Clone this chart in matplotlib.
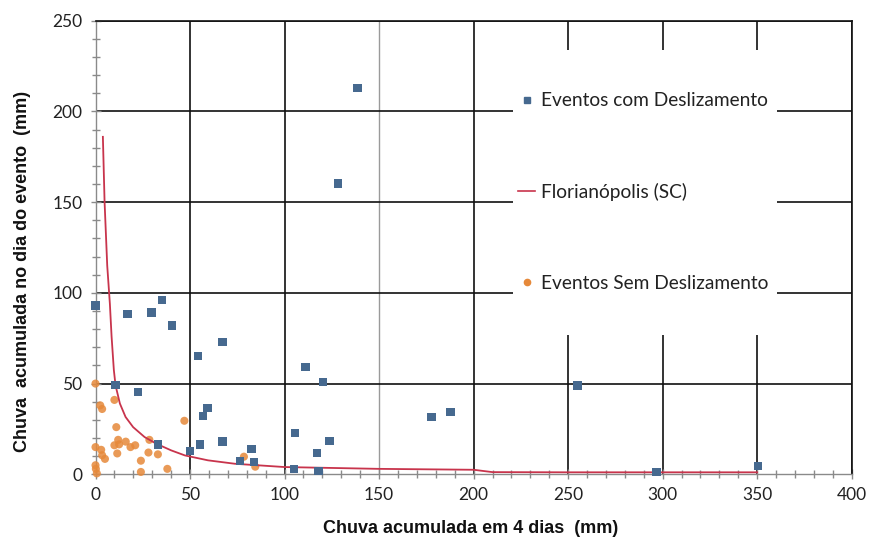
import matplotlib
matplotlib.use("Agg")
import matplotlib.pyplot as plt
from matplotlib.lines import Line2D
from matplotlib.patches import Rectangle
from matplotlib.ticker import MultipleLocator

plt.rcParams['font.family'] = ['Lato', 'DejaVu Sans']

# Eventos com Deslizamento (blue squares)
com_x = [0, 16.9, 29.7, 35, 40.6, 54.3, 67.2, 10.6, 22.6, 59.3, 56.8, 33.2, 50.1, 55.4,
         67.2, 82.6, 76.6, 84, 111, 120.2, 105.7, 123.7, 117, 105, 118, 177.8, 187.8,
         138.6, 128.2, 254.9, 296.8, 350.3]
com_y = [93, 88.2, 89.1, 96, 82, 65.2, 73.1, 49.2, 45.5, 36.7, 32.3, 16.5, 12.8, 16.5,
         18, 13.8, 7.5, 6.8, 59, 50.9, 22.6, 18.2, 11.7, 3.1, 2, 31.4, 34.2,
         213, 160.2, 49, 1.4, 4.7]

# Eventos Sem Deslizamento (orange circles)
sem_x = [0, 2.5, 3.5, 10, 11, 47, 0, 0, 0.2, 0.7, 3, 3.5, 5, 10, 12, 11.5, 12.5, 16,
         18.5, 21, 28.5, 28, 33, 24, 24, 38, 78.5, 84.5]
sem_y = [50, 38, 36, 41, 26, 29.5, 15, 5, 3, 0.5, 13.5, 10.5, 8.5, 16, 19, 11.5, 16.5, 18,
         15, 16, 19, 12, 11, 7.5, 1.3, 3, 9.7, 4.2]

# Florianópolis (SC) threshold curve
flo_x = [3.9, 4.8, 6.2, 7.6, 8.5, 9.7, 10.6, 12.9, 15.9, 19.9, 26, 32.3, 40, 47.3, 59.5,
         73.8, 100, 150, 200, 210, 250, 300, 350]
flo_y = [186, 150, 115, 94, 76, 57.5, 49, 39, 31.6, 26, 20.5, 16.8, 13.2, 10.4, 7.7,
         5.8, 4.0, 3.0, 2.5, 1.2, 1.1, 1.1, 1.1]

x_ticks = [0, 50, 100, 150, 200, 250, 300, 350, 400]
y_ticks = [0, 50, 100, 150, 200, 250]

blue = '#46698F'
orange = '#E6893A'
red = '#C8344C'

fig = plt.figure(figsize=(8.73, 5.42), dpi=100)
ax = fig.add_axes([0.1094, 0.1249, 0.9756 - 0.1094, 0.9618 - 0.1249])

ax.set_xlim(0, 400)
ax.set_ylim(0, 250)
ax.set_xticks(x_ticks)
ax.set_yticks(y_ticks)
ax.xaxis.set_minor_locator(MultipleLocator(10))
ax.yaxis.set_minor_locator(MultipleLocator(10))
ax.tick_params(which='both', direction='inout', color='#8a8a8a', width=1)
ax.tick_params(which='major', length=7, labelsize=12.5, pad=6, labelcolor='#222222')
ax.tick_params(which='minor', length=6)

ax.set_axisbelow(True)
ax.grid(True, which='major', color='#111111', linewidth=1.2)
for t, gl in zip(ax.get_xticks(), ax.get_xgridlines()):
    if t == 0:
        gl.set_visible(False)
    elif t == 150:
        gl.set_color('#9a9a9a')
        gl.set_linewidth(1.0)
for t, gl in zip(ax.get_yticks(), ax.get_ygridlines()):
    if t == 0:
        gl.set_visible(False)

for s in ['left', 'bottom']:
    ax.spines[s].set_color('#8a8a8a')
    ax.spines[s].set_linewidth(1.0)
for s in ['top', 'right']:
    ax.spines[s].set_color('#111111')
    ax.spines[s].set_linewidth(1.2)

# white legend area
ax.add_patch(Rectangle((0.552, 0.307), 0.901 - 0.552, 0.935 - 0.307,
                       transform=ax.transAxes, facecolor='white', edgecolor='none',
                       zorder=1))

ax.scatter(sem_x, sem_y, s=34, marker='o', color=orange, alpha=0.85,
           edgecolors='none', zorder=3, clip_on=False)
ax.plot(flo_x, flo_y, color=red, linewidth=1.3, zorder=4)
ax.scatter(com_x, com_y, s=36, marker='s', color=blue, edgecolors='none',
           zorder=5, clip_on=False)

handles = [
    Line2D([], [], linestyle='none', marker='s', markersize=5, color=blue),
    Line2D([], [], color=red, linewidth=1.2),
    Line2D([], [], linestyle='none', marker='o', markersize=4.5, color=orange),
]
labels = ['Eventos com Deslizamento', 'Florianópolis (SC)', 'Eventos Sem Deslizamento']
leg = ax.legend(handles, labels, loc='center', bbox_to_anchor=(0.7245, 0.622),
                bbox_transform=ax.transAxes, frameon=False, fontsize=13.8,
                labelspacing=3.85, handlelength=0.9, handletextpad=0.3, borderpad=0)
for txt in leg.get_texts():
    txt.set_color('#222222')

lab_font = dict(family=['Liberation Sans', 'DejaVu Sans'], fontsize=13,
                fontweight='bold', color='#111111')
ax.set_xlabel('Chuva acumulada em 4 dias  (mm)', **lab_font)
ax.set_ylabel('Chuva  acumulada no dia do evento  (mm)', **lab_font)
ax.xaxis.set_label_coords(0.4965, -0.101)
ax.yaxis.set_label_coords(-0.085, 0.448)

fig.savefig('out.png', dpi=100)
